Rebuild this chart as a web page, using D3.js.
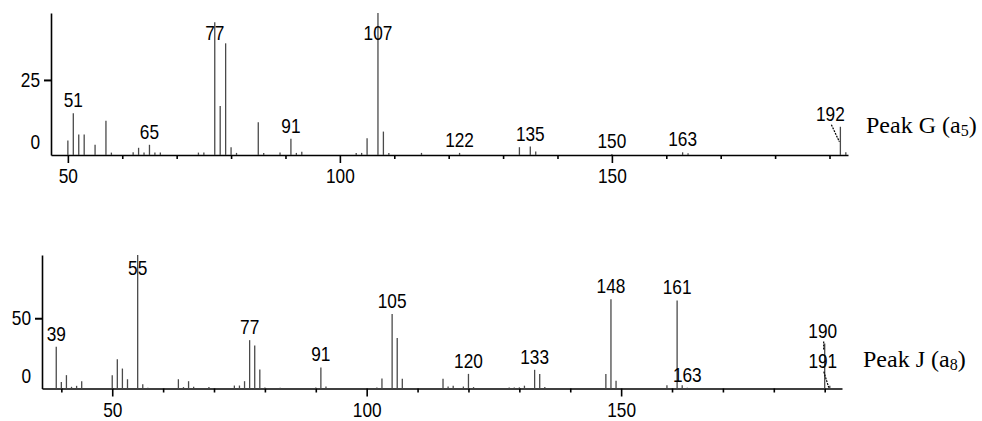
<!DOCTYPE html>
<html>
<head>
<meta charset="utf-8">
<script src="https://cdn.jsdelivr.net/npm/d3@7/dist/d3.min.js"></script>
<style>
  html, body { margin: 0; padding: 0; background: #fff; }
  svg { display: block; }
  .num { font-family: "Liberation Sans Narrow", "Arial Narrow", "Liberation Sans", Arial, sans-serif; font-size: 21px; fill: #000; }
  .title { font-family: "Liberation Serif", "Times New Roman", serif; font-size: 24px; fill: #000; }
</style>
</head>
<body>
<svg id="chart" width="982" height="421"></svg>
<script>
  // Peak G (a5) spectrum: m/z and relative intensity
  var massG = [50, 51, 52, 53, 55, 57, 58, 62, 63, 64, 65, 66, 67, 74, 75,
    77, 78, 79, 80, 81, 85, 86, 89, 91, 92, 93, 103, 104, 105, 107, 108, 109,
    115, 122, 133, 135, 136, 150, 163, 164, 192, 193];
  var intensityG = [4.8, 13.9, 6.8, 6.8, 3.4, 11.4, 0.8, 0.9, 2.4, 0.8, 3.4, 0.8, 0.8, 0.8, 0.8,
    44.2, 16.3, 37.2, 2.6, 0.7, 10.9, 0.7, 0.8, 5.4, 0.7, 1.1, 0.7, 0.7, 5.6, 47.3, 7.8, 0.7,
    0.7, 0.7, 2.6, 2.8, 1.2, 0.3, 0.9, 0.6, 9.4, 0.9];
  var labelsG = [51, 65, 77, 91, 107, 122, 135, 150, 163, 192];

  // Peak J (a8) spectrum
  var massJ = [39, 40, 41, 42, 43, 44, 50, 51, 52, 53, 55, 56, 57, 63, 64, 65, 66, 69,
    74, 75, 76, 77, 78, 79, 80, 83, 90, 91, 92, 102, 103, 105, 106, 107,
    115, 116, 117, 119, 120, 121, 128, 129, 130, 131, 133, 134, 135,
    147, 148, 149, 159, 161, 162, 163, 190, 191];
  var intensityJ = [29.7, 4.7, 9.5, 1.2, 1.9, 5.2, 9.5, 20.9, 14.2, 6.6, 95, 3.1, 0.5, 6.6, 1.0, 5.2, 1.2, 1.0,
    2.1, 2.1, 5.2, 34.4, 30.6, 13.5, 0.8, 0.6, 0.8, 15, 1.5, 0.8, 7.1, 53, 36, 6.9,
    6.9, 1.4, 1.9, 1.4, 10.4, 1.0, 0.8, 0.8, 0.8, 2.0, 13.3, 10.4, 1.0,
    10.4, 63.6, 5.5, 2.4, 62.7, 2.4, 0.5, 32, 2];
  var labelsJ = [39, 55, 77, 91, 105, 120, 133, 148, 161, 163, 190, 191];

  var xMajorTicks = [50, 100, 150];
  var xMinorTicks = [40, 60, 70, 80, 90, 110, 120, 130, 140, 160, 170, 180, 190];
  var yTicksG = [0, 25];
  var yTicksJ = [0, 50];

  var svg = d3.select('#chart');

  // the digits in the picture are narrow: squeeze them to ~9.6px each
  function narrow(sel) {
    sel.attr('textLength', function() { return this.textContent.length * 9.6; })
      .attr('lengthAdjust', 'spacingAndGlyphs');
  }

  function drawSpectrum(opt) {
    var g = svg.append('g');
    var x = d3.scaleLinear().domain(opt.xDomain).range(opt.xRange);
    var y = d3.scaleLinear().domain(opt.yDomain).range(opt.yRange);
    var base = y(0);
    var peaks = opt.mass.map(function(m, i) { return { m: m, v: opt.values[i] }; });
    var byMass = {};
    peaks.forEach(function(p) { byMass[p.m] = p.v; });

    // minor x ticks + axis line
    var minor = g.append('g')
      .attr('transform', 'translate(0,' + base + ')')
      .call(d3.axisBottom(x).tickValues(xMinorTicks.filter(function(t) {
          return t > opt.xDomain[0] && t < opt.xDomain[1];
        })).tickSize(4).tickSizeOuter(0).tickFormat(''));
    minor.select('.domain').attr('stroke-width', 1.6);
    minor.selectAll('.tick line').attr('stroke-width', 1.6);

    // major x ticks with labels
    var major = g.append('g')
      .attr('transform', 'translate(0,' + base + ')')
      .call(d3.axisBottom(x).tickValues(xMajorTicks).tickSize(8).tickPadding(6));
    major.select('.domain').remove();
    major.selectAll('.tick line').attr('stroke-width', 1.6);
    major.selectAll('.tick text').attr('class', 'num').attr('font-size', null)
      .attr('font-family', null).attr('dy', '0.68em').call(narrow);

    // y axis
    var yAx = g.append('g')
      .attr('transform', 'translate(' + opt.xRange[0] + ',0)')
      .call(d3.axisLeft(y).tickValues(opt.yTicks).tickSize(7).tickSizeOuter(0).tickPadding(4));
    yAx.select('.domain').attr('stroke-width', 1.6);
    yAx.selectAll('.tick line').attr('stroke-width', 2);
    yAx.selectAll('.tick text').attr('class', 'num').attr('font-size', null)
      .attr('font-family', null)
      .attr('dy', function(d) { return d === 0 ? '-0.3em' : '0.32em'; })
      .call(narrow);
    yAx.selectAll('.tick').filter(function(d) { return d === 0; }).select('line').remove();

    // peaks
    g.append('g').selectAll('line')
      .data(peaks)
      .join('line')
      .attr('x1', function(d) { return x(d.m); })
      .attr('x2', function(d) { return x(d.m); })
      .attr('y1', base)
      .attr('y2', function(d) { return y(d.v); })
      .attr('stroke', '#4a4a4a')
      .attr('stroke-width', 1.3);

    // peak labels
    var lab = g.append('g');
    opt.labels.forEach(function(m) {
      var adj = opt.adjust[m] || {};
      var v = byMass[m] || 0;
      var lx = x(m) + (adj.dx || 0);
      var ly = Math.max(y(v) - 6, opt.labelTop) + (adj.dy || 0);
      lab.append('text').attr('class', 'num')
        .attr('x', lx).attr('y', ly)
        .attr('text-anchor', 'middle')
        .text(m)
        .call(narrow);
      if (adj.leader) {
        lab.append('line')
          .attr('x1', lx + 1).attr('y1', ly + 4)
          .attr('x2', x(m) - 1).attr('y2', ly + 4 + adj.leader)
          .attr('stroke', '#000').attr('stroke-width', 1.2)
          .attr('stroke-dasharray', '2,1');
      }
    });

    // title with subscript
    var t = g.append('text').attr('class', 'title')
      .attr('x', opt.titlePos[0]).attr('y', opt.titlePos[1]);
    t.append('tspan').text(opt.title + ' (a');
    t.append('tspan').attr('font-size', '16px').attr('dy', 3).text(opt.sub);
    t.append('tspan').attr('dy', -3).text(')');
  }

  drawSpectrum({
    mass: massG, values: intensityG, labels: labelsG, yTicks: yTicksG,
    xDomain: [46.9, 193.4], xRange: [51, 848],
    yDomain: [0, 47.3], yRange: [155, 13],
    labelTop: 40,
    adjust: { 192: { dx: -10, leader: 17 } },
    title: 'Peak G', sub: '5', titlePos: [866, 133]
  });

  drawSpectrum({
    mass: massJ, values: intensityJ, labels: labelsJ, yTicks: yTicksJ,
    xDomain: [36.2, 193.4], xRange: [42, 842],
    yDomain: [0, 95], yRange: [388.5, 255],
    labelTop: 275,
    adjust: { 190: { dx: -2, leader: 8 }, 191: { dx: -7, dy: -12, leader: 16 } },
    title: 'Peak J', sub: '8', titlePos: [863, 367]
  });
</script>
</body>
</html>
